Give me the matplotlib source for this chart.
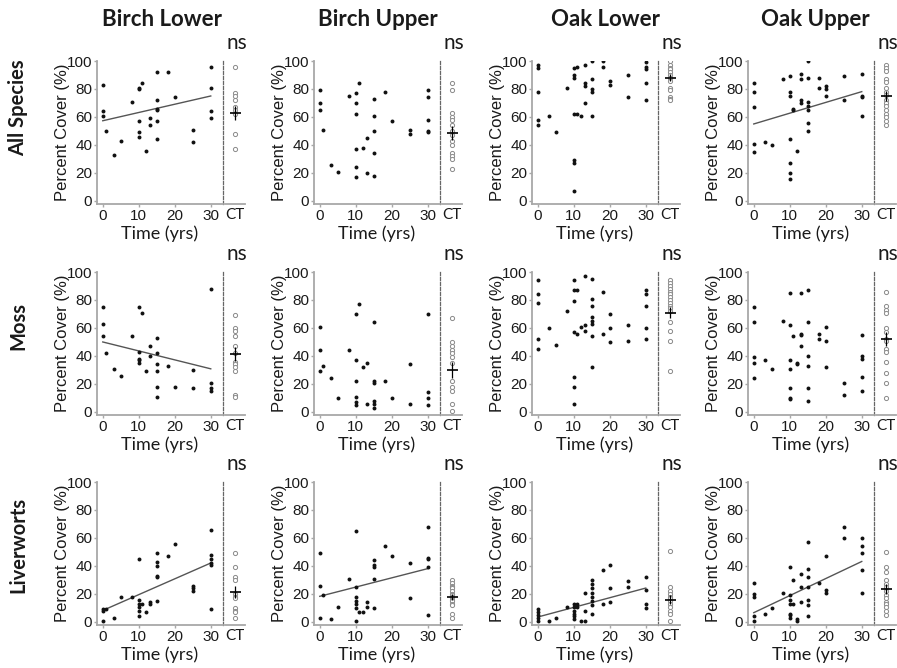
import numpy as np
import matplotlib
matplotlib.use("Agg")
import matplotlib.pyplot as plt

plt.rcParams["font.family"] = ["Liberation Sans", "DejaVu Sans"]

COLUMNS = ["Birch Lower", "Birch Upper", "Oak Lower", "Oak Upper"]
ROWS = ["All Species", "Moss", "Liverworts"]
X_TICKS = [0, 10, 20, 30]
Y_TICKS = [0, 20, 40, 60, 80, 100]
SIG_LABEL = "ns"
FIT_RANGE = [0, 30]

# ---- All species ----
all_bl_time = [0, 0, 0, 1, 3, 5, 8, 10, 10, 11, 10, 10, 10, 12, 13, 13, 15, 15, 15, 15, 15, 15, 18, 20, 25, 25, 30, 30, 30, 30]
all_bl_cover = [83, 64, 61, 50, 33, 43, 71, 81, 80, 84, 57, 49, 46, 36, 59, 54, 92, 72, 66, 65, 57, 44, 92, 74, 51, 42, 96, 81, 64, 59]
all_bl_ct = [96, 77, 75, 72, 67, 65, 62, 48, 37]

all_bu_time = [0, 0, 0, 1, 3, 5, 8, 10, 10, 10, 10, 10, 10, 11, 12, 13, 13, 15, 15, 15, 15, 15, 18, 20, 25, 25, 30, 30, 30, 30, 30]
all_bu_cover = [79, 70, 65, 51, 26, 21, 75, 77, 70, 62, 37, 24, 17, 84, 38, 45, 20, 73, 61, 50, 34, 18, 78, 57, 51, 48, 79, 74, 58, 50, 49]
all_bu_ct = [84, 79, 63, 60, 58, 54, 50, 47, 43, 40, 34, 32, 30, 23]

all_ol_time = [0, 0, 0, 0, 0, 3, 5, 8, 10, 10, 10, 10, 10, 10, 10, 11, 11, 12, 13, 13, 13, 13, 15, 15, 15, 15, 15, 18, 18, 20, 20, 25, 25, 30, 30, 30, 30, 30]
all_ol_cover = [97, 95, 78, 58, 54, 61, 49, 81, 95, 90, 88, 62, 29, 27, 7, 96, 62, 61, 97, 84, 82, 70, 100, 87, 80, 78, 61, 100, 96, 86, 83, 90, 74, 99, 96, 94, 84, 72]
all_ol_ct = [100, 97, 95, 94, 92, 90, 88, 86, 81, 79, 74, 73, 72]

all_ou_time = [0, 0, 0, 0, 0, 3, 5, 8, 10, 10, 10, 10, 10, 10, 10, 11, 11, 12, 13, 13, 13, 13, 15, 15, 15, 15, 15, 15, 15, 18, 18, 20, 20, 20, 25, 25, 30, 30, 30, 30]
all_ou_cover = [84, 78, 67, 41, 35, 42, 40, 87, 89, 78, 75, 44, 27, 20, 16, 66, 65, 36, 91, 87, 72, 70, 100, 88, 71, 68, 65, 56, 50, 88, 81, 82, 80, 75, 89, 72, 91, 75, 74, 61]
all_ou_ct = [97, 95, 93, 87, 85, 81, 78, 76, 72, 70, 68, 65, 62, 60, 57, 54]

all_ct_mean = [63, 48.5, 88, 75]
all_ct_sem = [5, 5, 2.5, 3.5]
all_fit = [(57.3, 0.59), None, None, (55, 0.77)]  # (intercept, slope)

# ---- Moss ----
moss_bl_time = [0, 0, 0, 1, 3, 5, 8, 10, 10, 10, 10, 10, 11, 12, 13, 13, 15, 15, 15, 15, 15, 15, 18, 20, 25, 25, 30, 30, 30, 30]
moss_bl_cover = [75, 63, 54, 42, 31, 26, 54, 75, 43, 38, 37, 35, 71, 29, 47, 40, 53, 42, 34, 29, 18, 11, 33, 18, 30, 17, 88, 21, 17, 15]
moss_bl_ct = [69, 60, 58, 54, 47, 42, 36, 34, 32, 29, 12, 11]

moss_bu_time = [0, 0, 0, 1, 3, 5, 8, 10, 10, 10, 10, 10, 10, 11, 12, 13, 13, 15, 15, 15, 15, 15, 15, 18, 20, 25, 25, 30, 30, 30, 30]
moss_bu_cover = [61, 44, 29, 33, 24, 10, 44, 70, 37, 22, 11, 7, 5, 77, 32, 35, 6, 64, 22, 21, 8, 6, 3, 22, 10, 34, 6, 70, 14, 10, 5]
moss_bu_ct = [67, 50, 47, 44, 42, 39, 35, 22, 18, 15, 6, 1]

moss_ol_time = [0, 0, 0, 0, 0, 3, 5, 8, 10, 10, 10, 10, 10, 10, 10, 11, 11, 12, 13, 13, 13, 15, 15, 15, 15, 15, 15, 15, 15, 18, 18, 20, 20, 20, 25, 25, 30, 30, 30, 30, 30]
moss_ol_cover = [94, 84, 78, 52, 45, 60, 48, 72, 94, 87, 79, 57, 25, 18, 6, 87, 56, 61, 97, 62, 58, 95, 81, 76, 68, 65, 63, 54, 32, 86, 56, 70, 60, 50, 62, 51, 87, 84, 76, 60, 52]
moss_ol_ct = [94, 92, 90, 88, 86, 84, 82, 80, 78, 76, 74, 72, 64, 58, 51, 29]

moss_ou_time = [0, 0, 0, 0, 0, 3, 5, 8, 10, 10, 10, 10, 10, 10, 10, 11, 12, 12, 13, 13, 13, 13, 15, 15, 15, 15, 15, 15, 18, 18, 20, 20, 20, 25, 25, 30, 30, 30, 30, 30]
moss_ou_cover = [75, 64, 39, 35, 24, 37, 31, 65, 85, 62, 37, 31, 17, 10, 9, 54, 35, 34, 85, 56, 55, 47, 87, 64, 40, 33, 17, 8, 56, 52, 61, 51, 32, 21, 12, 55, 40, 38, 25, 15]
moss_ou_ct = [86, 76, 73, 71, 60, 57, 52, 51, 45, 43, 36, 28, 21, 10]

moss_ct_mean = [41.5, 30, 71, 52]
moss_ct_sem = [5, 6, 4, 5]
moss_fit = [(50, -0.64), None, None, None]

# ---- Liverworts ----
liv_bl_time = [0, 0, 0, 1, 3, 5, 8, 10, 10, 10, 10, 10, 10, 11, 12, 13, 13, 15, 15, 15, 15, 15, 15, 18, 20, 25, 25, 25, 30, 30, 30, 30, 30, 30]
liv_bl_cover = [9, 8, 1, 9, 3, 18, 18, 45, 16, 13, 11, 8, 4, 13, 7, 14, 13, 49, 43, 40, 33, 32, 15, 47, 56, 26, 24, 22, 66, 48, 45, 42, 41, 9]
liv_bl_ct = [49, 39, 32, 30, 20, 18, 17, 10, 8, 7, 3]

liv_bu_time = [0, 0, 0, 1, 3, 5, 8, 10, 10, 10, 10, 10, 10, 10, 11, 12, 13, 13, 15, 15, 15, 15, 15, 18, 20, 25, 25, 30, 30, 30, 30, 30]
liv_bu_cover = [49, 26, 3, 19, 2, 11, 31, 65, 25, 18, 15, 13, 10, 1, 7, 7, 14, 11, 44, 41, 39, 31, 10, 54, 47, 42, 17, 68, 46, 45, 39, 5]
liv_bu_ct = [30, 28, 26, 25, 24, 22, 20, 19, 18, 17, 16, 15, 13, 12, 6, 3]

liv_ol_time = [0, 0, 0, 0, 0, 3, 5, 8, 10, 10, 10, 10, 10, 10, 11, 11, 12, 13, 13, 13, 15, 15, 15, 15, 15, 15, 15, 15, 18, 18, 20, 20, 20, 25, 25, 30, 30, 30, 30]
liv_ol_cover = [9, 7, 5, 3, 0.5, 0.5, 3, 11, 13, 11, 8, 6, 4, 2, 13, 11, 0.7, 21, 8, 0.7, 30, 27, 24, 21, 18, 15, 12, 6, 37, 13, 41, 24, 14, 29, 25, 32, 23, 13, 10]
liv_ol_ct = [51, 25, 22, 20, 18, 17, 15, 13, 11, 8, 6, 1]

liv_ou_time = [0, 0, 0, 0, 0, 3, 5, 8, 10, 10, 10, 10, 10, 10, 10, 11, 11, 12, 12, 13, 13, 13, 15, 15, 15, 15, 15, 15, 15, 18, 20, 20, 20, 25, 25, 30, 30, 30, 30, 30]
liv_ou_cover = [28, 20, 18, 4, 1, 6, 10, 21, 39, 19, 16, 13, 6, 5, 3, 30, 13, 0.5, 2, 34, 25, 14, 57, 38, 32, 25, 16, 12, 4, 28, 47, 23, 21, 68, 60, 60, 54, 49, 37, 21]
liv_ou_ct = [50, 39, 36, 30, 27, 25, 22, 19, 17, 14, 13, 11, 8, 5]

liv_ct_mean = [21.5, 18, 16, 23.5]
liv_ct_sem = [4.5, 2, 3.5, 3.5]
liv_fit = [(8.2, 1.13), (18.3, 0.66), (3.5, 0.69), (6.6, 1.22)]

panels = [
    [(all_bl_time, all_bl_cover, all_bl_ct), (all_bu_time, all_bu_cover, all_bu_ct),
     (all_ol_time, all_ol_cover, all_ol_ct), (all_ou_time, all_ou_cover, all_ou_ct)],
    [(moss_bl_time, moss_bl_cover, moss_bl_ct), (moss_bu_time, moss_bu_cover, moss_bu_ct),
     (moss_ol_time, moss_ol_cover, moss_ol_ct), (moss_ou_time, moss_ou_cover, moss_ou_ct)],
    [(liv_bl_time, liv_bl_cover, liv_bl_ct), (liv_bu_time, liv_bu_cover, liv_bu_ct),
     (liv_ol_time, liv_ol_cover, liv_ol_ct), (liv_ou_time, liv_ou_cover, liv_ou_ct)],
]
ct_means = [all_ct_mean, moss_ct_mean, liv_ct_mean]
ct_sems = [all_ct_sem, moss_ct_sem, liv_ct_sem]
fits = [all_fit, moss_fit, liv_fit]

W, H = 897, 668
SPINE_COLOR = "#a8a8a8"
TXT_FONT = ["Lato", "DejaVu Sans"]

# pixel layout
main_left = [97, 314, 532, 748]
row_bottom = [204, 415, 625]
main_w, ax_h = 126, 143
ct_gap, ct_w = 2, 20
col_title_x = [162, 378, 605, 815]
row_label_y = [108, 326, 545]

fig = plt.figure(figsize=(W / 100, H / 100), dpi=100)

for r in range(3):
    for c in range(4):
        t, y, ct = panels[r][c]
        ax = fig.add_axes([main_left[c] / W, 1 - row_bottom[r] / H, main_w / W, ax_h / H])
        ax.scatter(t, y, s=8, color="#111111", linewidths=0, zorder=3)
        fit = fits[r][c]
        if fit is not None:
            xs = np.array(FIT_RANGE)
            ax.plot(xs, fit[0] + fit[1] * xs, color="#555555", lw=1.0, zorder=2)
        ax.set_xlim(-1.6, 33.4)
        ax.set_ylim(-2.2, 100)
        ax.set_xticks(X_TICKS)
        ax.set_yticks(Y_TICKS)
        ax.spines["top"].set_visible(False)
        for s in ("left", "bottom"):
            ax.spines[s].set_color(SPINE_COLOR)
            ax.spines[s].set_linewidth(1.3)
        ax.spines["right"].set_color("#666666")
        ax.spines["right"].set_linewidth(0.9)
        ax.spines["right"].set_linestyle((0, (2.5, 1.5)))
        ax.tick_params(axis="both", direction="out", length=2.5, width=1,
                       color=SPINE_COLOR, labelsize=11, pad=1, labelcolor="#1a1a1a")
        ax.tick_params(axis="y", right=False)
        ax.set_ylabel("Percent Cover (%)", fontsize=12, color="#1a1a1a")
        ax.yaxis.set_label_coords(-0.215, 0.5)
        ax.set_xlabel("Time (yrs)", fontsize=13, family=TXT_FONT, color="#1a1a1a")
        ax.xaxis.set_label_coords(0.5, -0.15)

        ax_ct = fig.add_axes([(main_left[c] + main_w + ct_gap) / W, 1 - row_bottom[r] / H,
                              ct_w / W, ax_h / H])
        ax_ct.scatter(np.zeros(len(ct)), ct, s=9, facecolors="white",
                      edgecolors="#8a8a8a", linewidths=0.7, zorder=3)
        m, e = ct_means[r][c], ct_sems[r][c]
        ax_ct.hlines(m, -0.55, 0.55, color="black", lw=1.2, zorder=4)
        ax_ct.vlines(0, m - e, m + e, color="black", lw=0.9, zorder=4)
        ax_ct.set_xlim(-1, 1)
        ax_ct.set_ylim(-2.2, 100)
        for s in ("top", "right", "left"):
            ax_ct.spines[s].set_visible(False)
        ax_ct.spines["bottom"].set_color(SPINE_COLOR)
        ax_ct.spines["bottom"].set_linewidth(1.3)
        ax_ct.set_yticks([])
        ax_ct.set_xticks([0])
        ax_ct.set_xticklabels(["CT"], family=TXT_FONT, fontsize=11, color="#1a1a1a")
        ax_ct.tick_params(axis="x", length=0, pad=3)
        ax_ct.text(0.6, 1.0 + 18 / ax_h, SIG_LABEL, transform=ax_ct.transAxes,
                   ha="center", va="center", fontsize=15, family=TXT_FONT, color="#1a1a1a")

for c, name in enumerate(COLUMNS):
    fig.text(col_title_x[c] / W, 1 - 20 / H, name, ha="center", va="center",
             fontsize=16, fontweight="bold", family=TXT_FONT, color="#1a1a1a")

for r, name in enumerate(ROWS):
    fig.text(18 / W, 1 - row_label_y[r] / H, name, ha="center", va="center", rotation=90,
             fontsize=14.5, fontweight="bold", family=TXT_FONT, color="#1a1a1a")

fig.savefig("out.png", dpi=100)
